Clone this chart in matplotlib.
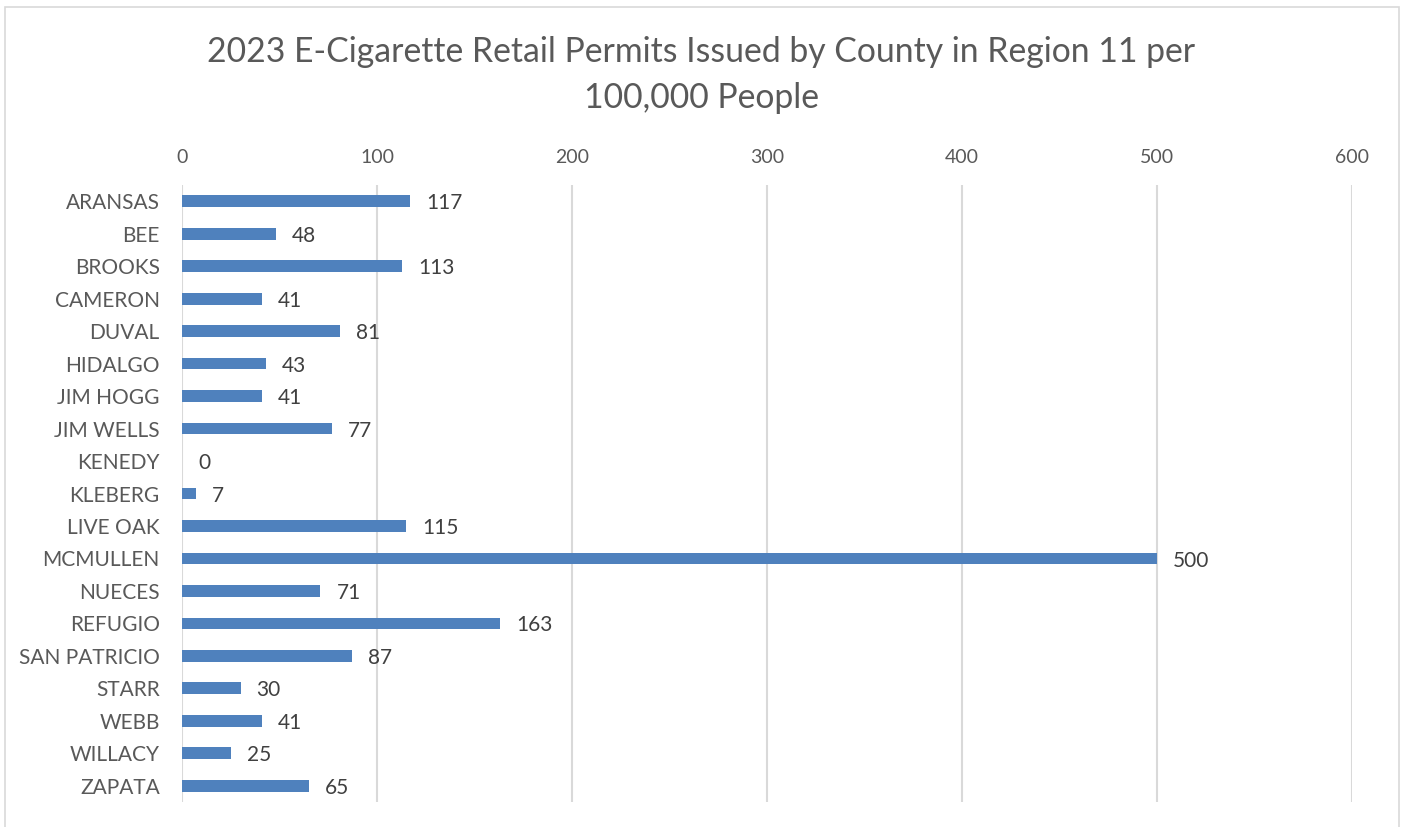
import matplotlib.pyplot as plt
from matplotlib.patches import Rectangle

counties = ['ARANSAS', 'BEE', 'BROOKS', 'CAMERON', 'DUVAL', 'HIDALGO', 'JIM HOGG',
            'JIM WELLS', 'KENEDY', 'KLEBERG', 'LIVE OAK', 'MCMULLEN', 'NUECES',
            'REFUGIO', 'SAN PATRICIO', 'STARR', 'WEBB', 'WILLACY', 'ZAPATA']
permits = [117, 48, 113, 41, 81, 43, 41, 77, 0, 7, 115, 500, 71, 163, 87, 30, 41, 25, 65]
ticks = [0, 100, 200, 300, 400, 500, 600]

plt.rcParams['font.family'] = ['Lato', 'DejaVu Sans']

fig = plt.figure(figsize=(14.03, 8.27), dpi=100)
ax = fig.add_axes([182 / 1403, 1 - 802 / 827, 1170 / 1403, 617 / 827])

# chart border
fig.patches.append(Rectangle((5 / 1403, -0.01), 1394 / 1403, 1 - 7 / 827 + 0.01,
                             transform=fig.transFigure, fill=False,
                             edgecolor='#D9D9D9', linewidth=1.2))

y = range(len(counties))
ax.barh(y, permits, height=0.36, color='#4F81BD', zorder=3)
for i, v in enumerate(permits):
    ax.annotate(str(v), (v, i), xytext=(11.5, -1.5), textcoords='offset points',
                ha='left', va='center', fontsize=15, color='#404040')

ax.set_xlim(0, 600)
ax.set_ylim(len(counties) - 0.5, -0.5)
ax.set_xticks(ticks)
ax.xaxis.tick_top()
ax.set_yticks(list(y))
ax.set_yticklabels(counties)
ax.tick_params(axis='x', length=0, pad=14, labelsize=14, labelcolor='#595959')
ax.tick_params(axis='y', length=0, pad=16, labelsize=15, labelcolor='#595959')
ax.grid(axis='x', color='#D9D9D9', linewidth=1.5, zorder=0)
for s in ax.spines.values():
    s.set_visible(False)

fig.text(0.5, 1 - 75 / 827,
         '2023 E-Cigarette Retail Permits Issued by County in Region 11 per\n100,000 People',
         ha='center', va='center', fontsize=24.3, color='#595959', linespacing=1.55)

fig.savefig('out.png', dpi=100)
